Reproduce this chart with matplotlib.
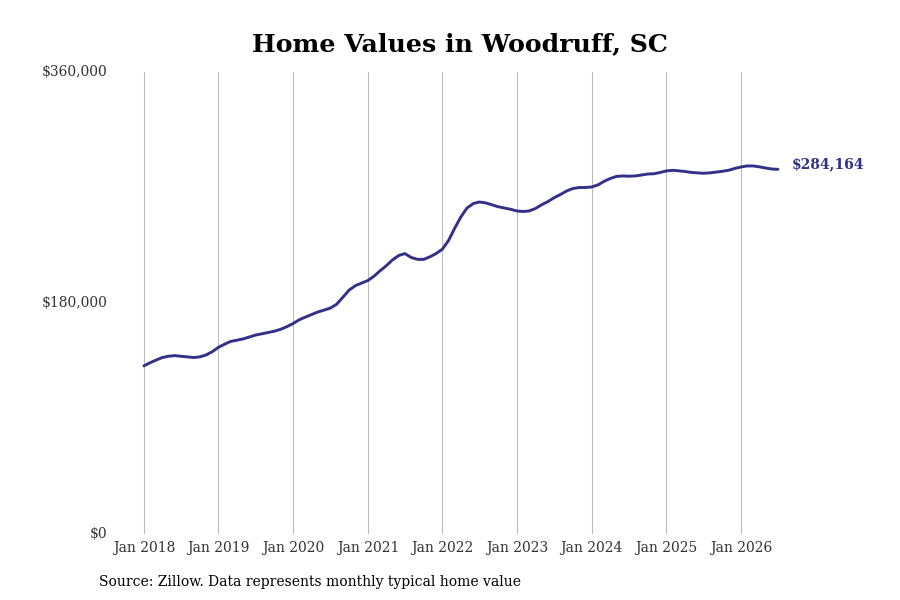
import matplotlib
matplotlib.use("Agg")
import matplotlib.pyplot as plt
import numpy as np
import pandas as pd

# monthly typical home value, Jan 2018 .. Jul 2026
values = [
    131000, 133500, 135500, 137500, 138500, 139000, 138500, 138000, 137500, 138000, 139500, 142000,  # 2018
    145500, 148000, 150000, 151000, 152000, 153500, 155000, 156000, 157000, 158000, 159500, 161500,  # 2019
    164000, 167000, 169000, 171000, 173000, 174500, 176000, 179000, 184500, 190000, 193500, 195500,  # 2020
    197500, 201000, 205000, 209000, 213500, 217000, 218500, 215500, 214000, 214000, 216000, 218500,  # 2021
    222000, 229000, 238000, 247000, 254000, 257500, 258700, 258000, 256500, 255000, 254000, 253000,  # 2022
    251700, 251300, 251700, 253600, 256500, 259000, 262000, 264500, 267300, 269200, 270000, 270000,  # 2023
    270400, 272000, 274700, 277000, 278600, 279000, 278800, 279000, 279700, 280500, 280700, 281700,  # 2024
    282900, 283400, 283000, 282500, 281800, 281400, 281100, 281400, 282000, 282600, 283400, 284800,  # 2025
    286000, 286800, 286800, 286100, 285200, 284400, 284164,                                          # 2026
]
dates = pd.date_range("2018-01-01", periods=len(values), freq="MS")
tick_years = list(range(2018, 2027))
y_ticks = [0, 180000, 360000]

LINE = "#33308a"

fig = plt.figure(figsize=(9, 6), dpi=100)
ax = fig.add_axes([120/900, 66/600, 680/900, 462/600])
ax.plot(dates, values, color=LINE, lw=2.1, solid_capstyle="round")

ticks = [pd.Timestamp(f"{y}-01-01") for y in tick_years]
ax.set_xticks(ticks)
ax.set_xticklabels([f"Jan {y}" for y in tick_years], fontsize=10, color="#333",
                   family="DejaVu Serif")
ax.set_xlim(pd.Timestamp("2018-01-01") - pd.Timedelta(days=117),
            pd.Timestamp("2018-01-01") + pd.Timedelta(days=(800 - 144) / 6.219 * 30.44))
ax.set_ylim(0, 360000)
ax.set_yticks(y_ticks)
ax.set_yticklabels([f"${v:,.0f}" for v in y_ticks], fontsize=10, color="#333",
                   family="DejaVu Serif")
ax.tick_params(length=0, pad=5)
ax.tick_params(axis="y", pad=9)
for lab in ax.get_yticklabels():
    lab.set_verticalalignment("center")
ax.grid(axis="x", color="#bbbbbb", lw=0.8)
ax.grid(axis="y", visible=False)
for s in ax.spines.values():
    s.set_visible(False)

ax.annotate(f"${values[-1]:,.0f}", (dates[-1], values[-1]), xytext=(10, 4),
            textcoords="offset points", ha="left", va="center", fontsize=10,
            fontweight="bold", color=LINE, family="DejaVu Serif")

fig.text(460/900, 1 - 44/600, "Home Values in Woodruff, SC", ha="center", va="center",
         fontsize=18.2, fontweight="bold", family="DejaVu Serif")
fig.text(99/900, 1 - 582/600, "Source: Zillow. Data represents monthly typical home value",
         ha="left", va="center", fontsize=10, family="DejaVu Serif")

fig.savefig("out.png", dpi=100)
